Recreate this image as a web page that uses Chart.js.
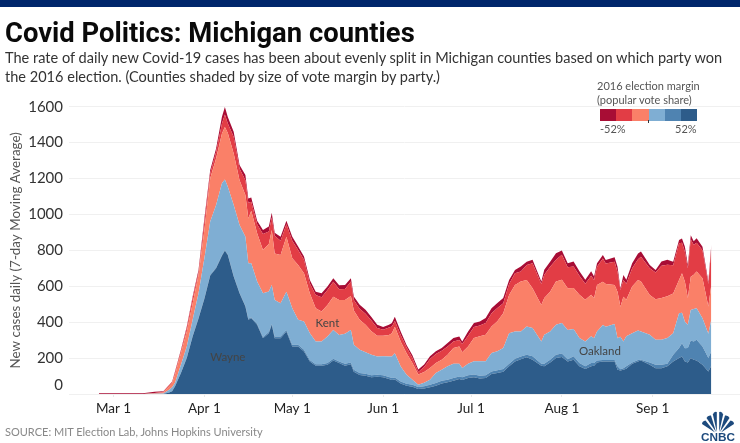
<!DOCTYPE html>
<html><head><meta charset="utf-8">
<script src="https://cdn.jsdelivr.net/npm/chart.js@4"></script>
<style>
html,body{margin:0;padding:0;background:#fff;overflow:hidden}
#wrap{position:relative;width:740px;height:443px;font-family:Lato,sans-serif;overflow:hidden}
#wrap div.t{position:absolute;white-space:nowrap}
canvas{position:absolute;left:0;top:0}
</style></head><body>
<div id="wrap">
<canvas id="c" width="740" height="443"></canvas>
<div class="t" style="left:0;top:0;width:740px;height:7px;background:#00266b"></div>
<div class="t" id="title" style="left:5px;top:15px;font-size:27.4px;line-height:36px;font-weight:700;color:#0a0a0a;font-family:Roboto,sans-serif">Covid Politics: Michigan counties</div>
<div class="t" style="left:5px;top:48px;font-size:14.55px;line-height:19px;color:#333">The rate of daily new Covid-19 cases has been about evenly split in Michigan counties based on which party won<br>the 2016 election. (Counties shaded by size of vote margin by party.)</div>
<div class="t" style="left:597px;top:79px;font-size:11px;line-height:13.5px;color:#555">2016 election margin<br>(popular vote share)</div>
<div class="t" id="legend" style="left:600px;top:109px;width:97px;height:12px;display:flex"></div>
<div class="t" style="left:648px;top:120px;width:1px;height:3px;background:#333"></div>
<div class="t" style="left:600px;top:122px;font-size:11px;line-height:14px;color:#555">-52%</div>
<div class="t" style="left:675px;top:122px;font-size:11px;line-height:14px;color:#555">52%</div>
<div class="t" style="left:5px;top:425px;font-size:11px;line-height:14px;color:#888">SOURCE: MIT Election Lab, Johns Hopkins University</div>
<svg class="t" style="position:absolute;left:699px;top:410px" width="38" height="33" viewBox="0 0 38 33">
<g fill="#1d4a7d">
<path d="M18.4 22 L14.5 4.5 Q15.5 1 18.4 2 Z" transform="translate(-.6 0)"/>
<path d="M19.6 22 L23.5 4.5 Q22.5 1 19.6 2 Z" transform="translate(.6 0)"/>
<path d="M17 22 L7.5 8 Q8.5 5 12 5.5 Z"/>
<path d="M21 22 L30.5 8 Q29.5 5 26 5.5 Z"/>
<path d="M16 22.5 L3 14 Q3 11 6.5 10.5 Z"/>
<path d="M22 22.5 L35 14 Q35 11 31.5 10.5 Z"/>
</g>
<text x="19" y="31" text-anchor="middle" font-family="Liberation Sans,sans-serif" font-weight="700" font-size="10.5" textLength="34" lengthAdjust="spacingAndGlyphs" fill="#1d4a7d">CNBC</text>
</svg>
</div>
<script>
const days = [-5,10,14,17,19,20,21,23,25,27,29,31,33,35,37,38,39,41,43,45,46,47,49,51,53,54,55,57,59,61,63,65,67,69,71,73,75,77,79,81,82,84,86,88,90,92,94,95,96,98,100,102,104,106,108,110,112,114,116,118,119,121,123,125,127,129,131,133,135,137,139,141,143,146,147,149,151,153,155,157,159,161,163,164,165,167,168,171,172,173,174,175,177,179,180,183,185,187,189,191,193,194,195,196,197,198,199,201,203,204];
const strongDem = [0,0,0,0,9,15,43,117,200,320,420,530,660,700,770,798,774,654,561,487,413,422,385,311,339,385,311,311,348,265,265,237,181,157,157,163,187,172,157,165,124,106,102,93,96,93,83,78,81,59,46,41,28,30,37,46,59,65,74,83,78,89,93,87,89,111,117,124,154,181,194,204,191,157,154,176,200,206,181,191,154,139,154,157,176,181,181,181,135,131,135,141,169,181,187,163,144,144,154,181,200,209,181,176,200,191,187,163,126,157];
const midDem = [0,0,0,0,0,0,0,0,4,4,4,4,4,4,4,4,4,4,4,4,6,6,6,6,6,6,9,9,9,9,9,9,9,9,9,9,9,9,11,11,11,11,11,11,11,11,11,11,11,11,11,11,11,13,15,15,15,15,15,15,15,15,15,15,15,15,15,15,15,15,15,15,19,11,15,15,19,19,13,19,19,15,19,15,11,9,9,9,19,7,9,13,7,9,4,13,19,19,15,37,56,74,74,80,98,102,115,102,74,80];
const lightDem = [0,0,1,3,15,22,19,46,61,89,137,222,296,348,399,392,376,394,376,385,309,300,235,244,226,216,204,185,213,204,139,158,148,126,126,148,161,148,167,181,139,130,119,115,102,106,115,120,135,83,50,28,13,19,28,56,61,74,80,70,52,65,74,80,78,102,106,117,170,152,139,157,157,124,161,157,167,170,163,152,139,139,148,139,161,194,185,200,157,181,148,167,163,163,157,154,139,139,143,120,194,170,148,130,170,180,176,157,135,176];
const lightRep = [0,0,3,6,19,24,46,65,83,93,102,157,241,259,278,293,300,287,250,232,250,293,269,241,265,306,259,269,306,278,306,269,222,185,167,176,185,194,189,189,191,167,154,130,115,115,120,130,148,139,120,93,56,61,65,56,56,65,87,96,87,96,130,139,148,148,167,194,213,259,278,259,222,204,204,222,241,241,232,228,241,232,232,222,259,241,237,217,259,167,250,204,259,282,278,222,226,232,232,222,185,219,222,148,185,191,204,222,152,194];
const midRep = [0,0,2,3,7,7,13,13,19,28,13,46,28,37,56,70,52,93,65,83,87,50,50,89,69,70,98,80,69,98,83,74,56,74,80,83,83,61,61,80,59,61,61,61,43,33,41,37,31,37,33,28,15,28,50,50,50,46,37,37,46,59,61,61,65,74,74,56,61,65,56,83,139,117,130,139,120,139,117,120,106,89,106,102,102,130,115,130,111,93,93,89,102,115,139,148,148,180,176,157,204,170,167,167,207,167,161,157,126,204];
const strongRep = [4,4,6,3,2,2,6,6,9,9,15,19,19,19,37,41,37,28,19,28,24,24,20,22,28,26,17,22,20,22,19,19,19,19,22,19,19,22,22,19,19,22,22,19,19,15,15,19,24,19,13,15,13,13,15,15,15,19,19,19,15,24,22,22,28,28,28,28,22,19,28,19,19,13,28,28,37,24,22,28,24,22,24,19,19,19,19,24,28,9,28,22,28,33,28,19,15,24,28,19,19,24,28,19,24,19,24,19,13,19];
const layerNames = ["Strong Democratic","Democratic","Lean Democratic","Lean Republican","Republican","Strong Republican"];
const layerColors = ["#2d5c8a","#4f83b1","#7faed3","#fa8068","#e23d45","#a80d35"];
const layerValues = [strongDem,midDem,lightDem,lightRep,midRep,strongRep];
const legendColors = ["#a80d35","#e23d45","#fa8068","#7faed3","#4f83b1","#2d5c8a"];
const tickDays = [0,31,61,92,122,153,184];
const tickLabels = ["Mar 1","Apr 1","May 1","Jun 1","Jul 1","Aug 1","Sep 1"];
const countyNames = ["Wayne","Kent","Oakland"];
const countyDays = [39,73,166];
const countyValues = [205,395,240];

legendColors.forEach(c=>{const d=document.createElement('div');d.style.cssText='flex:1;background:'+c;document.getElementById('legend').appendChild(d);});

const countyLabels = {id:'countyLabels',afterDatasetsDraw(ch){
  const g=ch.ctx,x=ch.scales.x,y=ch.scales.y;
  g.save();g.font='11.5px Lato, sans-serif';g.fillStyle='#444';g.textAlign='center';g.textBaseline='middle';
  countyNames.forEach((n,i)=>g.fillText(n,x.getPixelForValue(countyDays[i]),y.getPixelForValue(countyValues[i])));
  g.restore();
}};

new Chart(document.getElementById('c'),{
  type:'line',
  data:{datasets:layerValues.map((v,i)=>({
    label:layerNames[i],
    data:days.map((d,k)=>({x:d,y:v[k]})),
    backgroundColor:layerColors[i],borderWidth:0,pointRadius:0,tension:0,
    fill:i===0?'origin':'-1'
  }))},
  options:{
    responsive:false,animation:false,devicePixelRatio:1,
    layout:{padding:{top:106.7,left:0,right:0,bottom:0}},
    plugins:{legend:{display:false},tooltip:{enabled:false}},
    scales:{
      x:{type:'linear',min:-15.2,max:213.8,
        afterBuildTicks(s){s.ticks=tickDays.map(v=>({value:v}));},
        afterFit(s){s.height=49;},
        ticks:{autoSkip:false,maxRotation:0,padding:4,color:'#222',font:{size:13.5,family:'Lato, sans-serif'},
          callback(v){const i=tickDays.indexOf(v);return i<0?'':tickLabels[i];}},
        grid:{display:true,drawOnChartArea:false,drawTicks:true,tickLength:3,color:'#e8e8e8'},
        border:{display:false}},
      y:{stacked:true,min:0,max:1600,
        afterFit(s){s.width=69;},
        ticks:{autoSkip:false,stepSize:200,padding:6,color:'#333',font:{size:15,family:'Lato, sans-serif'},
          callback(v){return v===0?['0','']:String(v);}},
        grid:{color:'#f0f0f0',lineWidth:1,drawTicks:false},
        border:{display:false},
        title:{display:true,text:'New cases daily (7-day Moving Average)',color:'#555',
          font:{size:13.4,family:'Lato, sans-serif'},padding:{top:8,bottom:0}}}
    }
  },
  plugins:[countyLabels]
});
</script>
</body></html>
